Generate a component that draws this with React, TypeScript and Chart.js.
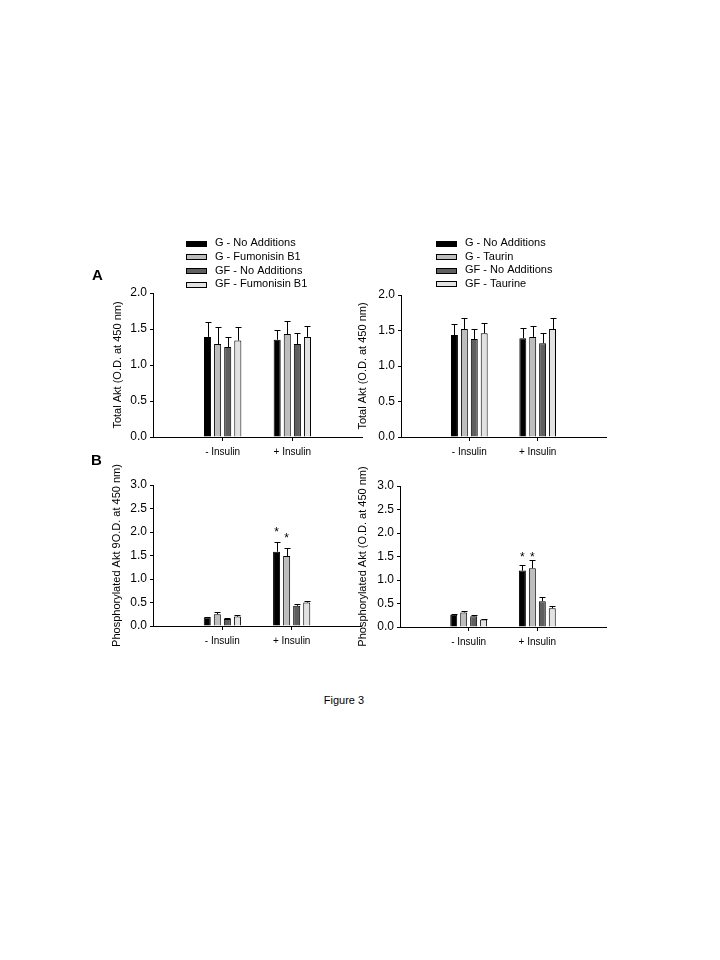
import React, { useEffect, useRef } from 'react';
import { Chart, registerables } from 'chart.js';

Chart.register(...registerables);

const FONT = '"Liberation Sans", Arial, sans-serif';

// ---- data ----
const categories = ['- Insulin', '+ Insulin'];
const axisLabels = ['', ...categories, ''];

const fumonisinLegend = ['G - No Additions', 'G - Fumonisin B1', 'GF - No Additions', 'GF - Fumonisin B1'];
const taurineLegend = ['G - No Additions', 'G - Taurin', 'GF - No Additions', 'GF - Taurine'];
const barColors = ['#000000', '#bdbdbd', '#5f5f5f', '#e2e2e2'];

const totalTitle = 'Total Akt (O.D. at 450 nm)';
const phosTitleLeft = 'Phosphorylated Akt 9O.D. at 450 nm)';
const phosTitleRight = 'Phosphorylated Akt (O.D. at 450 nm)';

// Panel A, left (Fumonisin B1) — [-Insulin, +Insulin] per series
const totalFumMean = [[1.39, 1.35], [1.29, 1.43], [1.25, 1.29], [1.34, 1.39]];
const totalFumErr = [[0.21, 0.14], [0.24, 0.18], [0.14, 0.15], [0.19, 0.15]];

// Panel A, right (Taurine)
const totalTauMean = [[1.435, 1.39], [1.52, 1.41], [1.38, 1.32], [1.46, 1.52]];
const totalTauErr = [[0.15, 0.15], [0.15, 0.16], [0.135, 0.15], [0.15, 0.16]];

// Panel B, left (Fumonisin B1)
const phosFumMean = [[0.18, 1.58], [0.25, 1.49], [0.15, 0.43], [0.2, 0.5]];
const phosFumErr = [[0.02, 0.2], [0.05, 0.18], [0.02, 0.04], [0.03, 0.04]];
const phosFumStars = [[null, 2.06], [null, 1.94], [null, null], [null, null]];

// Panel B, right (Taurine)
const phosTauMean = [[0.26, 1.2], [0.31, 1.25], [0.23, 0.55], [0.16, 0.4]];
const phosTauErr = [[0.02, 0.12], [0.04, 0.18], [0.02, 0.09], [0.02, 0.05]];
const phosTauStars = [[null, 1.55], [null, 1.55], [null, null], [null, null]];

const totalTicksMax = 2;
const phosTicksMax = 3;

// ---- plugins ----
const errorBarsPlugin = {
  id: 'errorBars',
  afterDatasetsDraw(chart: any) {
    const { ctx } = chart;
    const yScale = chart.scales.y;
    ctx.save();
    ctx.strokeStyle = '#000';
    ctx.lineWidth = 1;
    chart.data.datasets.forEach((ds: any, i: number) => {
      const meta = chart.getDatasetMeta(i);
      meta.data.forEach((el: any, j: number) => {
        const v = ds.data[j];
        const e = ds.errors ? ds.errors[j] : null;
        if (v == null || e == null) return;
        const x = Math.round(el.x) + 0.5;
        const yTop = Math.round(yScale.getPixelForValue(v + e)) + 0.5;
        ctx.beginPath();
        ctx.moveTo(x, el.y);
        ctx.lineTo(x, yTop);
        ctx.moveTo(x - 3, yTop);
        ctx.lineTo(x + 3, yTop);
        ctx.stroke();
      });
    });
    ctx.restore();
  },
};

const starsPlugin = {
  id: 'stars',
  afterDatasetsDraw(chart: any) {
    const { ctx } = chart;
    const yScale = chart.scales.y;
    ctx.save();
    ctx.fillStyle = '#000';
    ctx.font = `12px ${FONT}`;
    ctx.textAlign = 'center';
    ctx.textBaseline = 'alphabetic';
    chart.data.datasets.forEach((ds: any, i: number) => {
      if (!ds.stars) return;
      const meta = chart.getDatasetMeta(i);
      meta.data.forEach((el: any, j: number) => {
        const s = ds.stars[j];
        if (s == null) return;
        ctx.fillText('*', el.x, yScale.getPixelForValue(s) + 7);
      });
    });
    ctx.restore();
  },
};

const boxLegendPlugin = {
  id: 'boxLegend',
  afterDraw(chart: any, _args: any, opts: any) {
    if (!opts || !opts.show) return;
    const { ctx } = chart;
    ctx.save();
    ctx.font = `11px ${FONT}`;
    ctx.textBaseline = 'middle';
    ctx.textAlign = 'left';
    chart.data.datasets.forEach((ds: any, i: number) => {
      const yc = opts.y + opts.row * i;
      const y0 = Math.round(yc - 2.5) + 0.5;
      ctx.fillStyle = ds.backgroundColor;
      ctx.fillRect(opts.x + 0.5, y0, 20, 5);
      ctx.strokeStyle = '#000';
      ctx.lineWidth = 1;
      ctx.strokeRect(opts.x + 0.5, y0, 20, 5);
      ctx.fillStyle = '#000';
      ctx.fillText(ds.label, opts.x + 29, yc);
    });
    ctx.restore();
  },
};

const yTitlePlugin = {
  id: 'yTitle',
  afterDraw(chart: any, _args: any, opts: any) {
    if (!opts || !opts.text) return;
    const { ctx, chartArea } = chart;
    ctx.save();
    ctx.translate(chartArea.left - opts.offset, (chartArea.top + chartArea.bottom) / 2);
    ctx.rotate(-Math.PI / 2);
    ctx.font = `11px ${FONT}`;
    ctx.fillStyle = '#000';
    ctx.textAlign = 'center';
    ctx.textBaseline = 'middle';
    ctx.fillText(opts.text, 0, 0);
    ctx.restore();
  },
};

function makeDatasets(labels: string[], means: number[][], errs: number[][], stars?: (number | null)[][]) {
  return labels.map((label, i) => ({
    label,
    data: [null, means[i][0], means[i][1], null],
    errors: [null, errs[i][0], errs[i][1], null],
    stars: stars ? [null, stars[i][0], stars[i][1], null] : null,
    backgroundColor: barColors[i],
    borderColor: '#000',
    borderWidth: 1,
    categoryPercentage: 0.58,
    barPercentage: 0.7,
  }));
}

type PanelProps = {
  left: number; top: number; width: number; height: number;
  padTop: number; padRight: number;
  yMax: number;
  datasets: any[];
  title: string; titleOffset: number;
  legend?: { x: number; y: number; row: number };
};

function Panel(p: PanelProps) {
  const ref = useRef<HTMLCanvasElement>(null);
  useEffect(() => {
    if (!ref.current) return;
    const chart = new Chart(ref.current, {
      type: 'bar',
      data: { labels: axisLabels, datasets: p.datasets as any },
      options: {
        animation: false,
        responsive: false,
        maintainAspectRatio: false,
        layout: { padding: { top: p.padTop, right: p.padRight, left: 0, bottom: 0 } },
        scales: {
          x: {
            type: 'category',
            offset: false,
            grid: {
              display: true,
              offset: false,
              drawOnChartArea: false,
              tickLength: 4,
              color: '#000',
              tickColor: (c: any) => (c.tick && c.tick.label ? '#000' : 'rgba(0,0,0,0)'),
            },
            border: { display: true, color: '#000', width: 1 },
            ticks: {
              autoSkip: false,
              maxRotation: 0,
              minRotation: 0,
              padding: 5,
              color: '#000',
              font: { family: FONT, size: 10 },
            },
            afterFit: (s: any) => { s.height = 25; },
          } as any,
          y: {
            min: 0,
            max: p.yMax,
            ticks: {
              stepSize: 0.5,
              padding: 3,
              color: '#000',
              font: { family: FONT, size: 12 },
              callback: (v: any) => Number(v).toFixed(1),
            },
            grid: { drawOnChartArea: false, tickLength: 3, color: '#000' },
            border: { display: true, color: '#000', width: 1 },
            afterFit: (s: any) => { s.width = 60; },
          } as any,
        },
        plugins: {
          legend: { display: false },
          tooltip: { enabled: false },
          boxLegend: p.legend ? { show: true, ...p.legend } : { show: false },
          yTitle: { text: p.title, offset: p.titleOffset },
        } as any,
      },
      plugins: [errorBarsPlugin, starsPlugin, boxLegendPlugin, yTitlePlugin],
    });
    return () => chart.destroy();
  }, []);
  return (
    <canvas
      ref={ref}
      width={p.width}
      height={p.height}
      style={{ position: 'absolute', left: p.left, top: p.top, width: p.width, height: p.height, display: 'block' }}
    />
  );
}

const labelStyle: React.CSSProperties = {
  position: 'absolute',
  fontFamily: FONT,
  color: '#000',
  whiteSpace: 'nowrap',
};

export default function App() {
  return (
    <div style={{ position: 'absolute', left: 0, top: 0, width: 720, height: 960, background: '#fff' }}>
      <Panel
        left={93} top={230} width={277} height={232}
        padTop={63} padRight={8} yMax={totalTicksMax}
        datasets={makeDatasets(fumonisinLegend, totalFumMean, totalFumErr)}
        title={totalTitle} titleOffset={35.5}
        legend={{ x: 93, y: 13.3, row: 13.6 }}
      />
      <Panel
        left={341} top={230} width={273} height={232}
        padTop={65} padRight={8} yMax={totalTicksMax}
        datasets={makeDatasets(taurineLegend, totalTauMean, totalTauErr)}
        title={totalTitle} titleOffset={38}
        legend={{ x: 95, y: 13.3, row: 13.4 }}
      />
      <Panel
        left={93} top={445} width={276} height={206}
        padTop={40} padRight={8} yMax={phosTicksMax}
        datasets={makeDatasets(fumonisinLegend, phosFumMean, phosFumErr, phosFumStars)}
        title={phosTitleLeft} titleOffset={36.3}
      />
      <Panel
        left={340} top={445} width={274} height={207}
        padTop={41} padRight={8} yMax={phosTicksMax}
        datasets={makeDatasets(taurineLegend, phosTauMean, phosTauErr, phosTauStars)}
        title={phosTitleRight} titleOffset={37.5}
      />
      <div style={{ ...labelStyle, left: 92, top: 267, fontSize: 15, lineHeight: '15px', fontWeight: 'bold' }}>A</div>
      <div style={{ ...labelStyle, left: 91, top: 452, fontSize: 15, lineHeight: '15px', fontWeight: 'bold' }}>B</div>
      <div style={{ ...labelStyle, left: 304, top: 695, width: 80, textAlign: 'center', fontSize: 11, lineHeight: '11px' }}>Figure 3</div>
    </div>
  );
}
